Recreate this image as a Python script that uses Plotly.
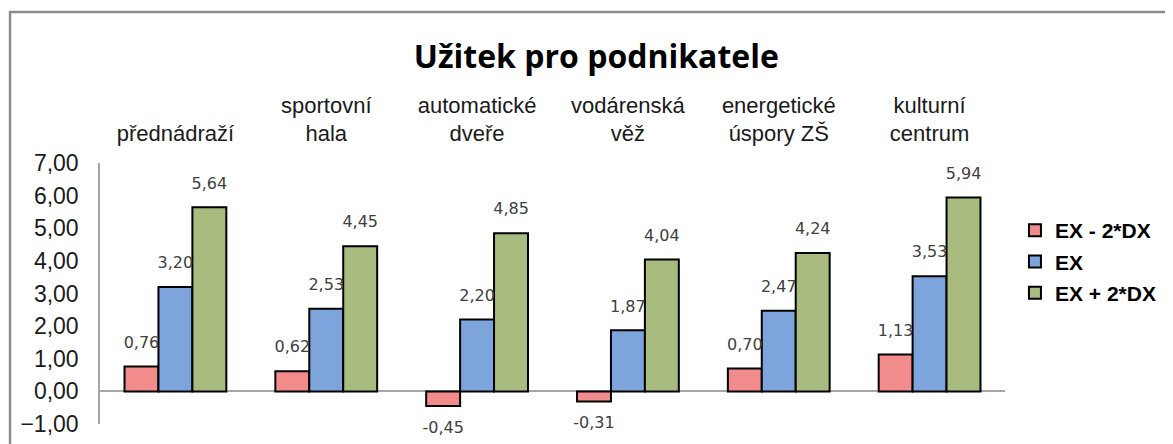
import plotly.graph_objects as go

categories = ["přednádraží", "sportovní<br>hala", "automatické<br>dveře",
              "vodárenská<br>věž", "energetické<br>úspory ZŠ", "kulturní<br>centrum"]
series_names = ["EX - 2*DX", "EX", "EX + 2*DX"]
ex_minus = [0.76, 0.62, -0.45, -0.31, 0.70, 1.13]
ex = [3.20, 2.53, 2.20, 1.87, 2.47, 3.53]
ex_plus = [5.64, 4.45, 4.85, 4.04, 4.24, 5.94]
y_ticks = [-1, 0, 1, 2, 3, 4, 5, 6, 7]

colors = ["#f28b8b", "#7ea4dc", "#a9bc80"]
series = [ex_minus, ex, ex_plus]

fig = go.Figure()
for name, vals, col in zip(series_names, series, colors):
    fig.add_trace(go.Bar(
        x=categories, y=vals, name=name, legendgroup=name,
        marker=dict(color=col, line=dict(color="black", width=2)),
    ))

# value labels: text-only scatter grouped like the bars, a hidden marker keeps
# the label a bit away from the bar end
for name, vals in zip(series_names, series):
    fig.add_trace(go.Scatter(
        x=categories, y=vals, mode="markers+text", showlegend=False,
        legendgroup=name, hoverinfo="skip", cliponaxis=False,
        marker=dict(size=22, color="rgba(0,0,0,0)"),
        text=[f"{v:.2f}".replace(".", ",") for v in vals],
        textposition=["top center" if v >= 0 else "bottom center" for v in vals],
        textfont=dict(family="DejaVu Sans", size=16, color="#404040"),
    ))

# the page body has an 8px margin, so the figure is 8px smaller than the window
fig.update_layout(
    width=1165, height=436,
    margin=dict(l=92, r=168, t=155, b=20, autoexpand=False),
    paper_bgcolor="white", plot_bgcolor="white",
    barmode="group", bargap=0.325, bargroupgap=0,
    scattermode="group", scattergap=0.325,
    separators=", ",
    title=dict(text="Užitek pro podnikatele", x=0.505, xanchor="center",
               y=0.887, yanchor="middle",
               font=dict(family="Open Sans", size=32, color="black", weight="bold")),
    legend=dict(x=1.011, y=0.82, xanchor="left", yanchor="top",
                font=dict(family="Liberation Sans", size=21, color="black", weight="bold"),
                tracegroupgap=1, itemwidth=30),
    font=dict(family="Liberation Sans", color="#1a1a1a"),
    showlegend=True,
)
fig.update_xaxes(side="top", showline=False, showgrid=False, automargin=False,
                 ticks="outside", ticklen=12, tickcolor="rgba(0,0,0,0)",
                 tickfont=dict(family="Liberation Sans", size=22, color="#1a1a1a"))
fig.update_yaxes(range=[-1, 7], tickvals=y_ticks, tickformat=".2f", automargin=False,
                 showgrid=False, showline=True, linecolor="#a6a6a6", linewidth=1.5,
                 zeroline=True, zerolinecolor="#a6a6a6", zerolinewidth=1.5,
                 ticks="outside", ticklen=15, tickcolor="rgba(0,0,0,0)",
                 tickfont=dict(family="Liberation Sans", size=23, color="#1a1a1a"))

# chart area frame (top and left edges visible in the crop)
fig.add_shape(type="rect", xref="paper", yref="paper",
              x0=-0.0994, x1=1.3, y0=-0.3, y1=1.5785,
              line=dict(color="#8c8c8c", width=2.5), layer="below")

fig.write_html("out.html")
